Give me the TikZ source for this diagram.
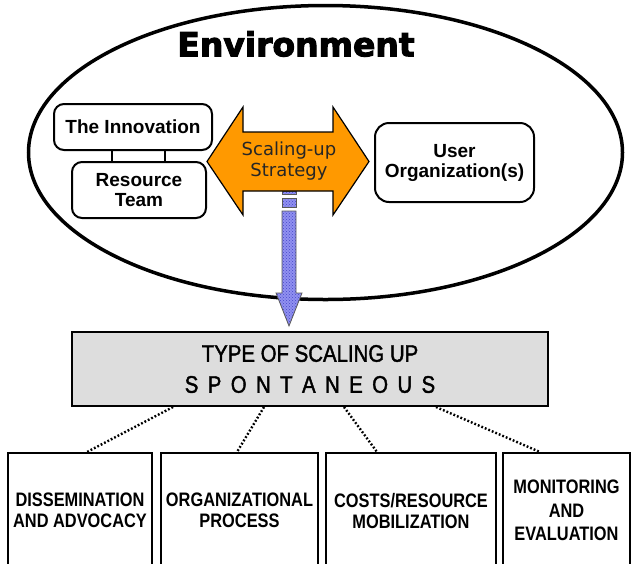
\documentclass[tikz,border=0pt]{standalone}
\usepackage{fontspec}
\setmainfont{Liberation Sans}
\newfontfamily\narrowf[FakeStretch=0.84]{Liberation Sans}
\newfontfamily\typef[FakeStretch=0.85,FakeBold=1.6]{Liberation Sans}
\newfontfamily\dejavu{DejaVu Sans}
\newfontfamily\envf[BoldFeatures={FakeBold=3}]{DejaVu Sans}
\usetikzlibrary{patterns}
\definecolor{orangeC}{HTML}{FF9900}
\definecolor{grayfill}{HTML}{DDDDDD}
\definecolor{blueDot}{RGB}{70,70,200}
\definecolor{blueBase}{RGB}{145,145,240}
\tikzset{
  rbox/.style={draw, line width=2pt, rounded corners=10pt, inner sep=0pt, align=center,
    font=\bfseries\fontsize{19}{20}\selectfont},
  bluearrow/.style={preaction={fill=blueBase}, pattern=crosshatch dots, pattern color=blueDot,
    draw=black!65, line width=0.8pt},
  bbox/.style={draw, line width=1.5pt, minimum height=116pt, anchor=north, align=center, inner sep=0pt,
    font=\narrowf\bfseries\fontsize{19.5}{21}\selectfont},
  dotline/.style={line width=2.4pt, dash pattern=on 1.8pt off 2pt},
}
\begin{document}
\begin{tikzpicture}[x=1pt,y=-1pt]
\clip (0,0) rectangle (631,563);
\fill[white] (0,0) rectangle (631,563);

% environment ellipse
\draw[line width=3.5pt] (325.5,152.5) ellipse [x radius=297, y radius=147];
\node[font=\envf\bfseries\fontsize{33}{33}\selectfont] (envt) at (296,44) {Environment};

% blue striped arrow
\filldraw[bluearrow] (282,191) rectangle (296,194);
\filldraw[bluearrow] (282,198) rectangle (296,207);
\filldraw[bluearrow] (282,211) -- (296,211) -- (296,293) -- (302,293) -- (289,326) -- (276,293) -- (282,293) -- cycle;

% orange double arrow
\filldraw[fill=orangeC, draw=black, line width=1.2pt]
  (207,161.5) -- (243,107) -- (243,132) -- (333,132) -- (333,107) -- (369,161.5)
  -- (333,215) -- (333,191) -- (243,191) -- (243,215) -- cycle;
\node[font=\dejavu\fontsize{18}{21}\selectfont, align=center, text=black!85] (strat) at (289,161) {Scaling-up\\Strategy};

% left boxes
\node[rbox, minimum width=158pt, minimum height=46pt] (inn) at (133,127) {The Innovation};
\node[rbox, minimum width=134pt, minimum height=56pt] (res) at (139,190) {Resource\\Team};
\draw[line width=2pt] ([xshift=-21pt]inn.south) -- ([xshift=-21pt]inn.south |- res.north);
\draw[line width=2pt] ([xshift=32pt]inn.south) -- ([xshift=32pt]inn.south |- res.north);

% user box
\node[rbox, rounded corners=14pt, minimum width=159pt, minimum height=79pt] (user) at (454.5,162.5) {User\\Organization(s)};

% type box
\node[draw, line width=2pt, fill=grayfill, minimum width=476pt, minimum height=74pt, inner sep=0pt, align=center,
  font=\typef\fontsize{24}{31}\selectfont] (type) at (310,369)
  {TYPE OF SCALING UP\\S\hspace{9.4pt}P\hspace{9.4pt}O\hspace{9.4pt}N\hspace{9.4pt}T\hspace{9.4pt}A\hspace{9.4pt}N\hspace{9.4pt}E\hspace{9.4pt}O\hspace{9.4pt}U\hspace{9.4pt}S};

% bottom boxes
\node[bbox, minimum width=144pt] (b1) at (80,452) {DISSEMINATION\\AND ADVOCACY};
\node[bbox, minimum width=157pt] (b2) at (239.5,452) {ORGANIZATIONAL\\PROCESS};
\node[bbox, minimum width=170pt] (b3) at (411,452) {COSTS/RESOURCE\\MOBILIZATION};
\node[bbox, minimum width=127pt, font=\narrowf\bfseries\fontsize{19.5}{23.5}\selectfont] (b4) at (566.5,452) {MONITORING\\AND\\EVALUATION};

% dotted connectors
\draw[dotline] ([xshift=102pt]type.south west) -- ([xshift=7pt]b1.north);
\draw[dotline] ([xshift=193pt]type.south west) -- ([xshift=-2.5pt]b2.north);
\draw[dotline] ([xshift=273pt]type.south west) -- ([xshift=-34pt]b3.north);
\draw[dotline] ([xshift=365pt]type.south west) -- ([xshift=-26.5pt]b4.north);
\end{tikzpicture}
\end{document}
